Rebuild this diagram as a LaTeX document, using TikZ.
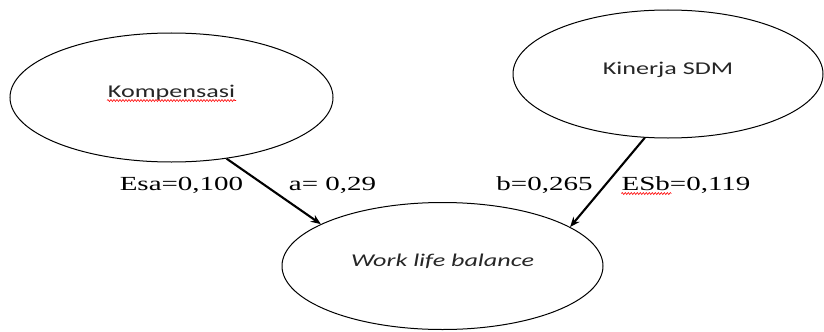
\documentclass[tikz,border=0pt]{standalone}
\usepackage{fontspec}
\usepackage{graphicx}
\setmainfont{Liberation Serif}
\newfontfamily\carlito{Carlito}
\usetikzlibrary{shapes.geometric,arrows.meta,decorations.pathmorphing}
\newcommand{\wide}[1]{\scalebox{1.45}[1]{#1}}

\begin{document}
\begin{tikzpicture}[x=1bp, y=1bp,
    konstruk/.style={draw, ellipse, line width=1bp, inner sep=0pt, text height=12bp, text depth=12bp, text=black!85, font=\carlito\fontsize{18bp}{20bp}\selectfont},
    jalur/.style={-{Stealth[length=10bp,width=8bp]}, line width=2.1bp},
    koef/.style={anchor=base, inner sep=0pt, font=\fontsize{20bp}{22bp}\selectfont},
    ejaan/.style={red, line width=0.6bp, decorate, decoration={snake, amplitude=1bp, segment length=3bp}}]
  \useasboundingbox (0,0) rectangle (824,331);

  % ==================== 1. konstruk ====================
  \node[konstruk, minimum width=323bp, minimum height=129bp] (komp) at (171.5,233.5) {\wide{Kompensasi}};
  \node[konstruk, minimum width=310bp, minimum height=128bp] (kin) at (668,257) {\wide{Kinerja SDM}};
  \node[konstruk, minimum width=321bp, minimum height=127bp] (wlb) at (442.5,65) {\wide{\itshape Work life balance}};

  % ==================== 2. jalur ====================
  \draw[jalur] (komp.-48) -- (wlb.161.6);
  \draw[jalur] (kin.250.5) -- (wlb.17.4);

  % ==================== 3. koefisien ====================
  \node[koef] (esa) at (181.5,140.5) {\wide{Esa=0,100}};
  \node[koef] (a) at (332.5,140.5) {\wide{a= 0,29}};
  \node[koef] (b) at (544.5,140.5) {\wide{b=0,265}};
  \node[koef] (esb) at (686,140.5) {\wide{ESb=0,119}};

  % garis ejaan (merah)
  \draw[ejaan] ([xshift=-64.5bp,yshift=-3bp]komp.center) -- ++(129,0);
  \draw[ejaan] ([yshift=-3bp]esb.base west) -- ++(50,0);
\end{tikzpicture}
\end{document}
